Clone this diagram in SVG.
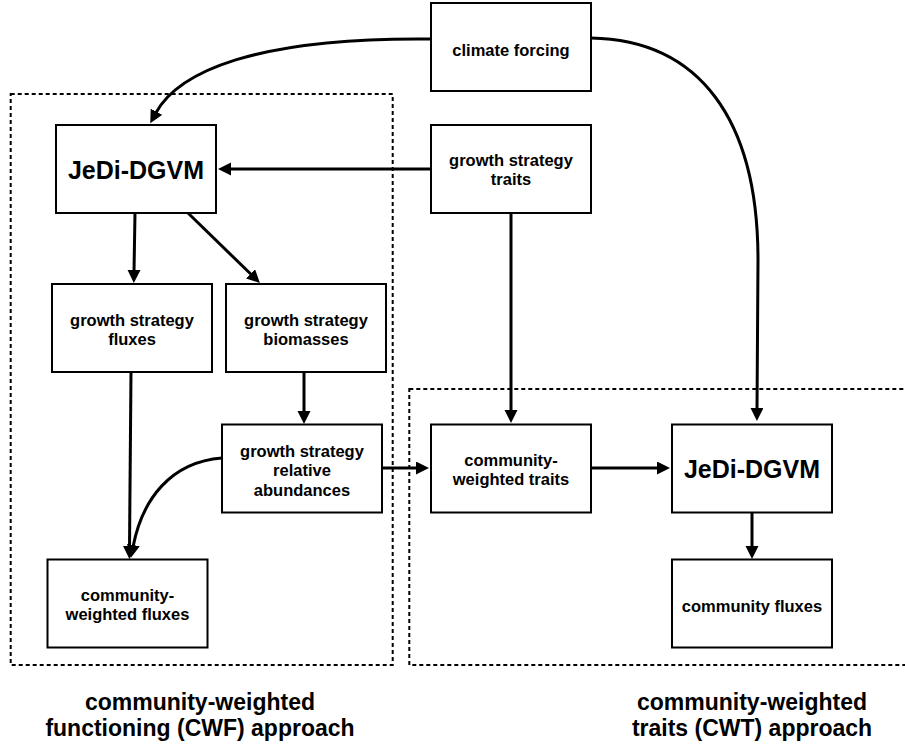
<svg xmlns="http://www.w3.org/2000/svg" width="905" height="747" viewBox="0 0 905 747">
<style>
.box{fill:#fff;stroke:#000;stroke-width:2}
.grp{fill:none;stroke:#000;stroke-width:2;stroke-dasharray:4 3}
.t{font-family:"Liberation Sans",Arial,sans-serif;font-weight:bold;font-size:16.5px;text-anchor:middle;fill:#000}
.big{font-size:25px}
.lab{font-size:23px}
.c{fill:none;stroke:#000;stroke-width:3;marker-end:url(#ah)}
</style>
<defs>
<marker id="ah" markerUnits="userSpaceOnUse" markerWidth="14" markerHeight="14" refX="2" refY="6.5" orient="auto">
<path d="M0,0 L13,6.5 L0,13 Z" fill="#000"/>
</marker>
</defs>
<rect width="905" height="747" fill="#fff"/>
<g id="groups">
<rect class="grp" x="10.7" y="94" width="382" height="571"/>
<rect class="grp" x="409.3" y="389" width="520" height="276"/>
</g>
<g id="connectors">
<path class="c" d="M431,39 C255,37 178,72 155.5,113.5"/>
<path class="c" d="M591,38 C700,40 758,120 758,260 L757,410"/>
<path class="c" d="M431,169 L229,169"/>
<path class="c" d="M511,213 L511,412"/>
<path class="c" d="M135,213 L134,272"/>
<path class="c" d="M188,213 L252,275.3"/>
<path class="c" d="M304,372 L304,413"/>
<path class="c" d="M131,372 L129.5,548"/>
<path class="c" d="M222,458 C170,462 142,500 133,547"/>
<path class="c" d="M382,468 L418,468"/>
<path class="c" d="M591,468 L659,468"/>
<path class="c" d="M752,512 L752,548"/>
</g>
<g id="climate">
<rect class="box" x="431" y="3" width="160" height="88"/>
<text class="t" x="511" y="55.5">climate forcing</text>
</g>
<g id="gst">
<rect class="box" x="431" y="125" width="160" height="88"/>
<text class="t" x="511" y="166">growth strategy</text>
<text class="t" x="511" y="185.3">traits</text>
</g>
<g id="jedi1">
<rect class="box" x="56" y="125" width="160" height="88"/>
<text class="t big" x="136" y="178.5">JeDi-DGVM</text>
</g>
<g id="gsf">
<rect class="box" x="52" y="284" width="160" height="88"/>
<text class="t" x="132" y="326">growth strategy</text>
<text class="t" x="132" y="345">fluxes</text>
</g>
<g id="gsb">
<rect class="box" x="226" y="284" width="160" height="88"/>
<text class="t" x="306" y="326">growth strategy</text>
<text class="t" x="306" y="345">biomasses</text>
</g>
<g id="gsra">
<rect class="box" x="222" y="424.5" width="160" height="88"/>
<text class="t" x="302" y="456.7">growth strategy</text>
<text class="t" x="302" y="475.7">relative</text>
<text class="t" x="302" y="495.5">abundances</text>
</g>
<g id="cwf">
<rect class="box" x="47.5" y="559.5" width="160" height="88"/>
<text class="t" x="127.5" y="600.7">community-</text>
<text class="t" x="127.5" y="620">weighted fluxes</text>
</g>
<g id="cwt">
<rect class="box" x="431" y="424.5" width="160" height="88"/>
<text class="t" x="511" y="465.7">community-</text>
<text class="t" x="511" y="484.5">weighted traits</text>
</g>
<g id="jedi2">
<rect class="box" x="672" y="424.5" width="160" height="88"/>
<text class="t big" x="752" y="477.7">JeDi-DGVM</text>
</g>
<g id="cflux">
<rect class="box" x="672" y="559.5" width="160" height="88"/>
<text class="t" x="752" y="611.7">community fluxes</text>
</g>
<g id="labels">
<text class="t lab" x="200" y="709.5">community-weighted</text>
<text class="t lab" x="200" y="736">functioning (CWF) approach</text>
<text class="t lab" x="752" y="709.5">community-weighted</text>
<text class="t lab" x="752" y="736">traits (CWT) approach</text>
</g>
</svg>
